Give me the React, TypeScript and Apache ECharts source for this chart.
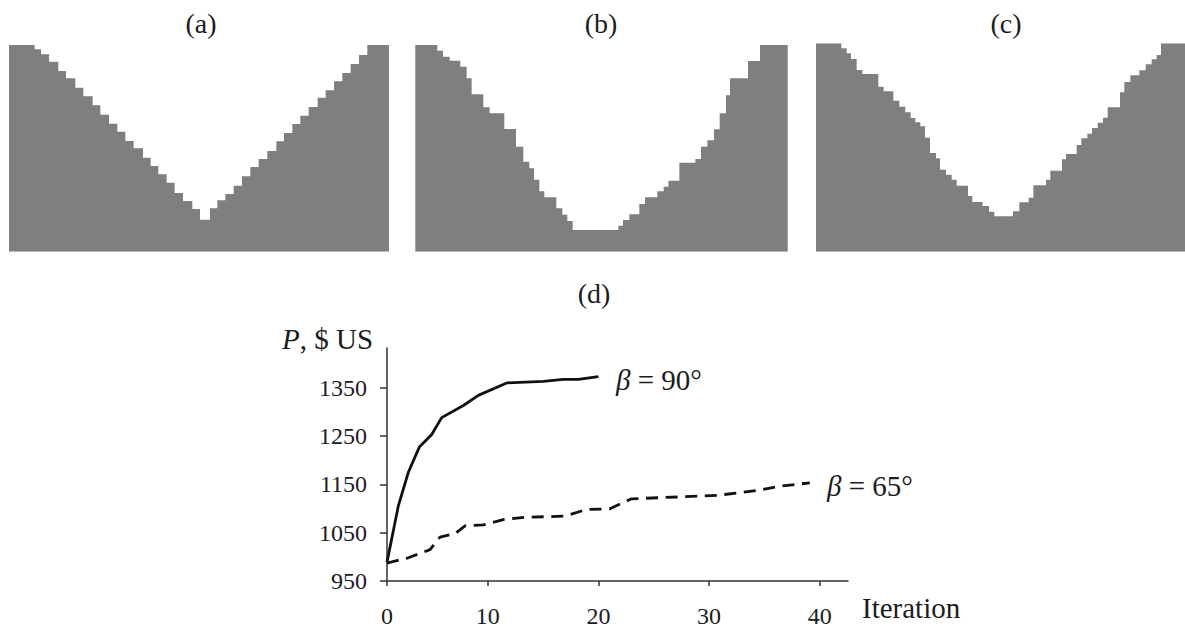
import React, { useEffect, useRef } from "react";
import * as echarts from "echarts";

const FONT = "'Liberation Serif', 'Times New Roman', serif";
const GREY = "#7f7f7f";
const INK = "#1c1c1c";

// Top panels: stepped profile, each depth holds from its x to the next x.
const aX = [27,104,123,147,175,198,226,250,278,301,327,352,376,401,429,452,475,500,524,549,577,600,630,652,676,701,726,751,776,802,829,852,877,901,926,953,977,1002,1027,1052,1077,1102,1167];
const aDepth = [45,58,73,95,123,145,173,199,226,254,281,305,333,355,383,408,433,458,489,513,537,569,535,511,492,467,439,411,387,363,334,309,282,257,231,203,181,154,129,102,75,45,45];
const bX = [31,97,114,134,166,185,200,235,254,298,333,355,373,387,403,418,454,472,487,503,640,654,673,703,720,757,776,790,823,871,888,907,927,944,963,975,1029,1065,1148];
const bDepth = [45,62,80,92,110,145,193,232,250,297,350,395,415,449,484,502,535,554,573,600,587,570,553,522,502,484,470,452,398,387,350,331,298,250,196,145,93,45,45];
const cX = [48,124,140,153,170,187,235,251,280,298,316,332,346,361,375,390,408,420,438,455,470,504,517,548,567,583,639,658,686,700,738,751,786,798,830,844,862,876,893,909,923,960,973,991,1018,1037,1055,1070,1083,1155];
const cDepth = [40,55,70,87,120,132,170,184,212,230,247,264,277,289,323,369,385,419,434,449,467,498,516,528,545,559,544,517,503,466,449,422,388,372,345,325,311,294,278,263,232,187,156,136,121,103,88,75,40,40];

// Lower panel
const yTicks = [950, 1050, 1150, 1250, 1350];
const xTicks = [0.9, 10, 20, 30, 40];
const solidX = [0.9,1.93,2.83,3.82,4.94,5.84,7.8,9.15,11.77,15.02,16.83,18.18,20];
const solidY = [989,1106,1175,1227,1253,1288,1313,1334,1360,1363,1367,1367,1373];
const dashX = [0.9,2.83,4.79,5.69,7.05,7.95,9.6,11.4,13.5,16.83,17.4,18.9,21,22.1,23,30.7,34.6,36.4,39.1];
const dashY = [987,998,1015,1041,1048,1064,1066,1077,1082,1084,1087,1098,1099,1111,1120,1127,1138,1146,1153];

const zip = (x: number[], y: number[]) => x.map((v, i) => [v, y[i]]);

const panels = [
  { x: aX, d: aDepth, left: 9, top: 45, width: 380, height: 206.7, yMin: 45 },
  { x: bX, d: bDepth, left: 415.3, top: 45, width: 372.4, height: 206.7, yMin: 45 },
  { x: cX, d: cDepth, left: 816, top: 43.3, width: 369, height: 208.4, yMin: 40 },
];

const label = (text: string, x: number, y: number, fontSize = 28, align = "center") => ({
  type: "text",
  x,
  y,
  style: {
    text,
    fontFamily: FONT,
    fontSize,
    fill: INK,
    align,
    verticalAlign: "middle",
    rich: { i: { fontStyle: "italic", fontFamily: FONT, fontSize, fill: INK } },
  },
});

export default function App() {
  const ref = useRef<HTMLDivElement>(null);
  useEffect(() => {
    const chart = echarts.init(ref.current!, null, { renderer: "svg" });
    const grids: any[] = panels.map((p) => ({ left: p.left, top: p.top, width: p.width, height: p.height }));
    grids.push({ left: 387, top: 348, width: 461, height: 234.5 });

    const xAxes: any[] = panels.map((p, i) => ({
      type: "value", gridIndex: i, show: false, min: p.x[0], max: p.x[p.x.length - 1],
    }));
    const yAxes: any[] = panels.map((p, i) => ({
      type: "value", gridIndex: i, show: false, inverse: true, min: p.yMin, max: 665,
    }));
    const axisLine = { lineStyle: { color: "#333", width: 1.5 } };
    xAxes.push({
      type: "value", gridIndex: 3, min: 0.9, max: 42.55,
      splitLine: { show: false },
      axisLine: { ...axisLine, onZero: false },
      axisTick: { show: true, length: 5, customValues: xTicks, lineStyle: { color: "#333", width: 1.5 } },
      axisLabel: {
        customValues: xTicks, margin: 23, fontFamily: FONT, fontSize: 24, color: INK,
        formatter: (v: number) => (v < 1 ? "0" : String(v)),
      },
    });
    yAxes.push({
      type: "value", gridIndex: 3, min: 950, max: 1432,
      splitLine: { show: false },
      axisLine: { show: true, ...axisLine, onZero: false },
      axisTick: { show: true, length: 7, customValues: yTicks, lineStyle: { color: "#333", width: 1.5 } },
      axisLabel: {
        customValues: yTicks, margin: 20, fontFamily: FONT, fontSize: 24, color: INK,
        padding: [4, 0, 0, 0],
        formatter: (v: number) => String(v),
      },
    });

    const series: any[] = panels.map((p, i) => ({
      type: "line", xAxisIndex: i, yAxisIndex: i, step: "end", showSymbol: false, silent: true,
      data: zip(p.x, p.d),
      lineStyle: { width: 0 },
      itemStyle: { color: GREY },
      areaStyle: { color: GREY, opacity: 1, origin: "end" },
    }));
    series.push({
      type: "line", name: "β = 90°", xAxisIndex: 3, yAxisIndex: 3, showSymbol: false, silent: true,
      data: zip(solidX, solidY),
      lineStyle: { color: "#111", width: 2.8, type: "solid" },
    });
    series.push({
      type: "line", name: "β = 65°", xAxisIndex: 3, yAxisIndex: 3, showSymbol: false, silent: true,
      data: zip(dashX, dashY),
      lineStyle: { color: "#111", width: 2.8, type: [12, 7.6] },
    });

    chart.setOption({
      animation: false,
      backgroundColor: "#fff",
      grid: grids,
      xAxis: xAxes,
      yAxis: yAxes,
      series,
      graphic: [
        label("(a)", 201, 23),
        label("(b)", 601, 23),
        label("(c)", 1006, 23),
        label("(d)", 594, 293),
        label("{i|P}, $ US", 282, 339, 29, "left"),
        label("{i|β} = 90°", 616, 380, 29, "left"),
        label("{i|β} = 65°", 827, 486, 29, "left"),
        label("Iteration", 862, 608, 29, "left"),
      ],
    });
    return () => chart.dispose();
  }, []);
  return <div ref={ref} style={{ position: "fixed", left: 0, top: 0, width: 1185, height: 628 }} />;
}
